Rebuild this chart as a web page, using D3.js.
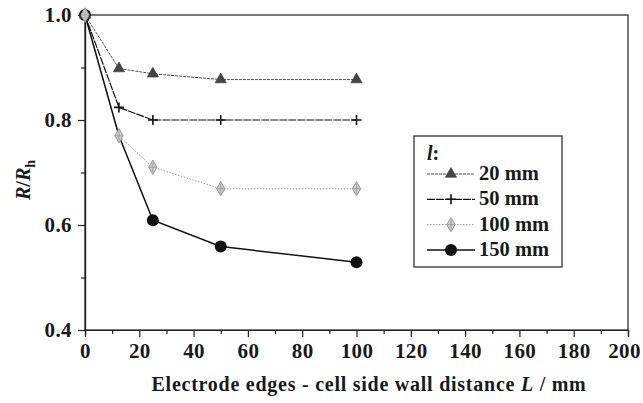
<!DOCTYPE html>
<html>
<head>
<meta charset="utf-8">
<script src="https://cdn.jsdelivr.net/npm/d3@7"></script>
<style>
  body { margin: 0; background: #fff; }
</style>
</head>
<body>
<svg id="chart" width="643" height="403"></svg>
<script>
/* R/Rh vs electrode edge - side wall distance */

const distances = [0, 12.5, 25, 50, 100];
const r20 = [1.0, 0.898, 0.888, 0.877, 0.877];
const r50 = [1.0, 0.824, 0.800, 0.800, 0.800];
const r100 = [1.0, 0.770, 0.710, 0.669, 0.669];
const r150 = [1.0, 0.770, 0.609, 0.559, 0.529];

const seriesNames = ['20 mm', '50 mm', '100 mm', '150 mm'];
const xTicks = [0, 20, 40, 60, 80, 100, 120, 140, 160, 180, 200];
const yTicks = [0.4, 0.6, 0.8, 1.0];

const series = [
  { name: seriesNames[0], values: r20, color: '#555', width: 1, dash: '3,1', marker: 'triangle', fill: '#444' },
  { name: seriesNames[1], values: r50, color: '#111', width: 1.2, dash: '8,1', marker: 'plus', fill: '#111' },
  { name: seriesNames[2], values: r100, color: '#999', width: 1, dash: '1.5,1.5', marker: 'diamond', fill: '#aaa' },
  { name: seriesNames[3], values: r150, color: '#111', width: 1.5, dash: null, marker: 'circle', fill: '#111' }
];

const FONT = 'Liberation Serif';
const svg = d3.select('#chart');
const plotL = 85, plotR = 628, plotT = 15, plotB = 330;

const x = d3.scaleLinear().domain([0, 200]).range([plotL, plotR]);
const y = d3.scaleLinear().domain([0.4, 1.0]).range([plotB, plotT]);

// frame
svg.append('rect')
  .attr('x', plotL).attr('y', plotT)
  .attr('width', plotR - plotL).attr('height', plotB - plotT)
  .attr('fill', 'none').attr('stroke', '#222').attr('stroke-width', 1.2);

// x axis
const xAxis = svg.append('g').attr('transform', `translate(0,${plotB})`)
  .call(d3.axisBottom(x).tickValues(xTicks).tickSize(7).tickPadding(6).tickFormat(d3.format('d')));
svg.append('g').attr('transform', `translate(0,${plotB})`)
  .call(d3.axisBottom(x).tickValues(d3.range(10, 200, 20)).tickSize(4).tickFormat(''));

// y axis
svg.append('g').attr('transform', `translate(${plotL},0)`)
  .call(d3.axisLeft(y).tickValues(yTicks).tickSize(7).tickPadding(6).tickFormat(d3.format('.1f')));
svg.append('g').attr('transform', `translate(${plotL},0)`)
  .call(d3.axisLeft(y).tickValues([0.5, 0.7, 0.9]).tickSize(4).tickFormat(''));

svg.selectAll('.domain').attr('stroke', '#222').attr('stroke-width', 1.2);
svg.selectAll('.tick line').attr('stroke', '#222').attr('stroke-width', 1.2);
svg.selectAll('.tick text')
  .style('font-family', FONT).style('font-weight', 'bold')
  .style('font-size', '21px').style('letter-spacing', '0.4px').attr('fill', '#1a1a1a');
// keep the last label inside the window
xAxis.selectAll('.tick text').filter(d => d === 200).attr('dx', -4);

// axis titles
svg.append('text')
  .attr('x', 369).attr('y', 391)
  .attr('text-anchor', 'middle')
  .style('font-family', FONT).style('font-weight', 'bold').style('font-size', '20px')
  .style('letter-spacing', '0.75px')
  .attr('fill', '#1a1a1a')
  .html('Electrode edges - cell side wall distance <tspan font-style="italic">L</tspan> / mm');

svg.append('text')
  .attr('transform', 'translate(30,180) rotate(-90)')
  .attr('text-anchor', 'middle')
  .style('font-family', FONT).style('font-weight', 'bold').style('font-size', '20px')
  .attr('fill', '#1a1a1a')
  .html('<tspan font-style="italic">R</tspan>/<tspan font-style="italic">R</tspan><tspan font-size="14" dy="5">h</tspan>');

// markers
function drawMarker(g, type, cx, cy, s) {
  if (type === 'triangle') {
    g.append('path')
      .attr('d', d3.symbol(d3.symbolTriangle, 55)())
      .attr('transform', `translate(${cx},${cy})`)
      .attr('fill', s.fill).attr('stroke', '#333').attr('stroke-width', 0.6);
  } else if (type === 'plus') {
    g.append('path')
      .attr('d', `M${cx - 5},${cy}H${cx + 5}M${cx},${cy - 5}V${cy + 5}`)
      .attr('stroke', s.fill).attr('stroke-width', 1.6);
  } else if (type === 'diamond') {
    g.append('path')
      .attr('d', d3.symbol(d3.symbolDiamond, 60)())
      .attr('transform', `translate(${cx},${cy})`)
      .attr('fill', '#ccc').attr('stroke', '#999').attr('stroke-width', 1);
    g.append('path')
      .attr('d', `M${cx - 4},${cy}H${cx + 4}M${cx},${cy - 5}V${cy + 5}`)
      .attr('stroke', '#999').attr('stroke-width', 0.8);
  } else {
    g.append('circle').attr('cx', cx).attr('cy', cy).attr('r', 6).attr('fill', s.fill);
  }
}

const line = d3.line().x((d, i) => x(distances[i])).y(d => y(d));

series.forEach(s => {
  svg.append('path')
    .datum(s.values)
    .attr('d', line)
    .attr('fill', 'none')
    .attr('stroke', s.color)
    .attr('stroke-width', s.width)
    .attr('stroke-dasharray', s.dash);
});
// markers after all lines; the diamond sits on top of the hidden 150 mm point at 12.5
[3, 0, 1, 2].forEach(k => {
  const s = series[k];
  const g = svg.append('g');
  s.values.forEach((v, i) => {
    if (s.marker === 'circle' && i === 1) return;
    drawMarker(g, s.marker, x(distances[i]), y(v), s);
  });
});

// legend
const lg = svg.append('g');
lg.append('rect')
  .attr('x', 414).attr('y', 136).attr('width', 148).attr('height', 131)
  .attr('fill', '#fff').attr('stroke', '#222').attr('stroke-width', 1.2);
lg.append('text').attr('x', 427).attr('y', 160)
  .style('font-family', FONT).style('font-weight', 'bold').style('font-size', '20px')
  .attr('fill', '#1a1a1a')
  .html('<tspan font-style="italic">l</tspan>:');
series.forEach((s, i) => {
  const yy = 174 + i * 25.3;
  lg.append('line')
    .attr('x1', 427).attr('x2', 475).attr('y1', yy).attr('y2', yy)
    .attr('stroke', s.color).attr('stroke-width', s.width)
    .attr('stroke-dasharray', s.dash);
  drawMarker(lg, s.marker, 451, yy, s);
  lg.append('text').attr('x', 479).attr('y', yy + 6)
    .style('font-family', FONT).style('font-weight', 'bold').style('font-size', '20.5px')
    .attr('fill', '#1a1a1a')
    .text(s.name);
});
</script>
</body>
</html>
